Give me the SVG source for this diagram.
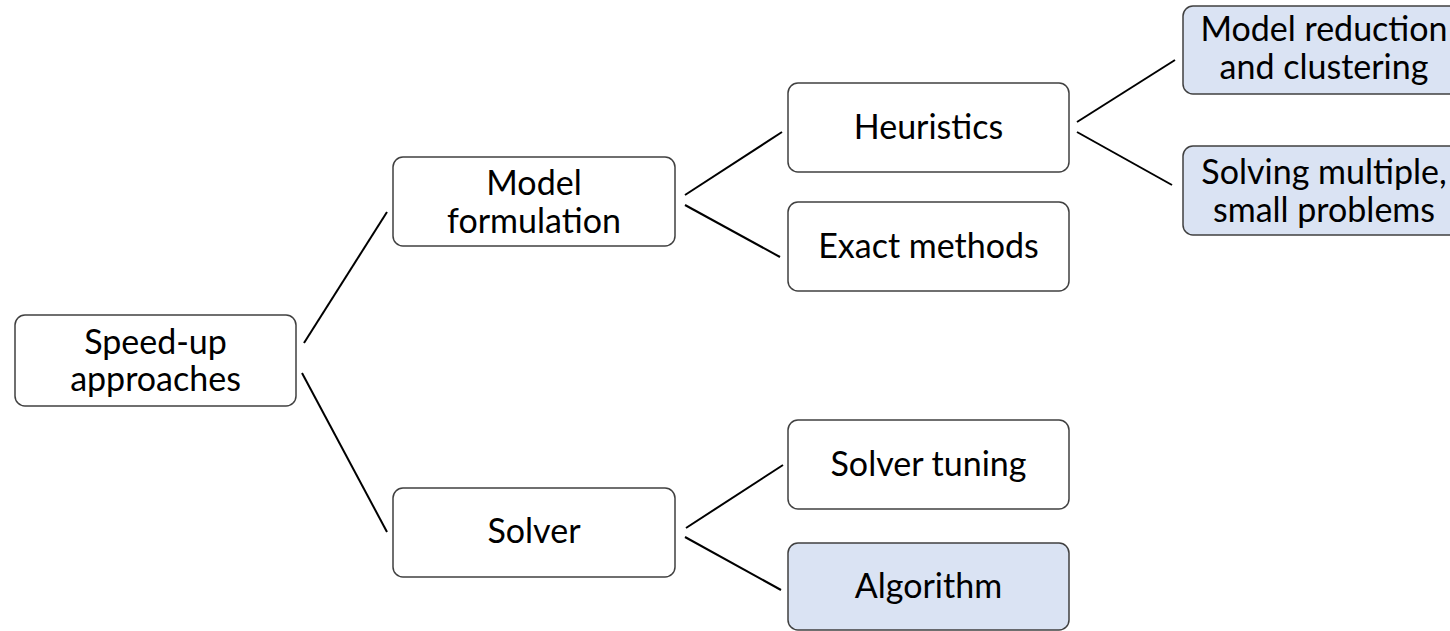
<svg xmlns="http://www.w3.org/2000/svg" width="1450" height="631" viewBox="0 0 1450 631">
<style>
.box{fill:#ffffff;stroke:#404040;stroke-width:1.5}
.hl{fill:#dae3f3;stroke:#404040;stroke-width:1.5}
.t{font-family:Lato,"Open Sans","Liberation Sans",sans-serif;font-size:34px;fill:#000000;text-anchor:middle}
.c{stroke:#000000;stroke-width:2;fill:none}
</style>
<rect width="1450" height="631" fill="#ffffff"/>
<g id="connectors">
<line class="c" x1="304" y1="343" x2="387" y2="212"/>
<line class="c" x1="302" y1="373" x2="387" y2="532"/>
<line class="c" x1="685" y1="195" x2="782" y2="132"/>
<line class="c" x1="685" y1="205" x2="780" y2="257"/>
<line class="c" x1="686" y1="528" x2="783" y2="465"/>
<line class="c" x1="685" y1="537" x2="781" y2="590"/>
<line class="c" x1="1077" y1="122" x2="1175" y2="60"/>
<line class="c" x1="1077" y1="132" x2="1172" y2="185"/>
</g>
<g id="speedup">
<rect class="box" x="15" y="315" width="281" height="91" rx="10"/>
<text class="t" x="155.5" y="354">Speed-up</text>
<text class="t" x="155.5" y="391">approaches</text>
</g>
<g id="modelformulation">
<rect class="box" x="393" y="157" width="282" height="89" rx="10"/>
<text class="t" x="534" y="195">Model</text>
<text class="t" x="534" y="233">formulation</text>
</g>
<g id="solver">
<rect class="box" x="393" y="488" width="282" height="89" rx="10"/>
<text class="t" x="534" y="543">Solver</text>
</g>
<g id="heuristics">
<rect class="box" x="788" y="83" width="281" height="89" rx="10"/>
<text class="t" x="928.5" y="139">Heuristics</text>
</g>
<g id="exactmethods">
<rect class="box" x="788" y="202" width="281" height="89" rx="10"/>
<text class="t" x="928.5" y="258">Exact methods</text>
</g>
<g id="solvertuning">
<rect class="box" x="788" y="420" width="281" height="89" rx="10"/>
<text class="t" x="928.5" y="476">Solver tuning</text>
</g>
<g id="algorithm">
<rect class="hl" x="788" y="543" width="281" height="87" rx="10"/>
<text class="t" x="928.5" y="598">Algorithm</text>
</g>
<g id="modelreduction">
<rect class="hl" x="1183" y="6" width="282" height="88" rx="10"/>
<text class="t" x="1324" y="41">Model reduction</text>
<text class="t" x="1324" y="79">and clustering</text>
</g>
<g id="solvingmultiple">
<rect class="hl" x="1183" y="146" width="282" height="89" rx="10"/>
<text class="t" x="1324" y="184">Solving multiple,</text>
<text class="t" x="1324" y="222">small problems</text>
</g>
</svg>
